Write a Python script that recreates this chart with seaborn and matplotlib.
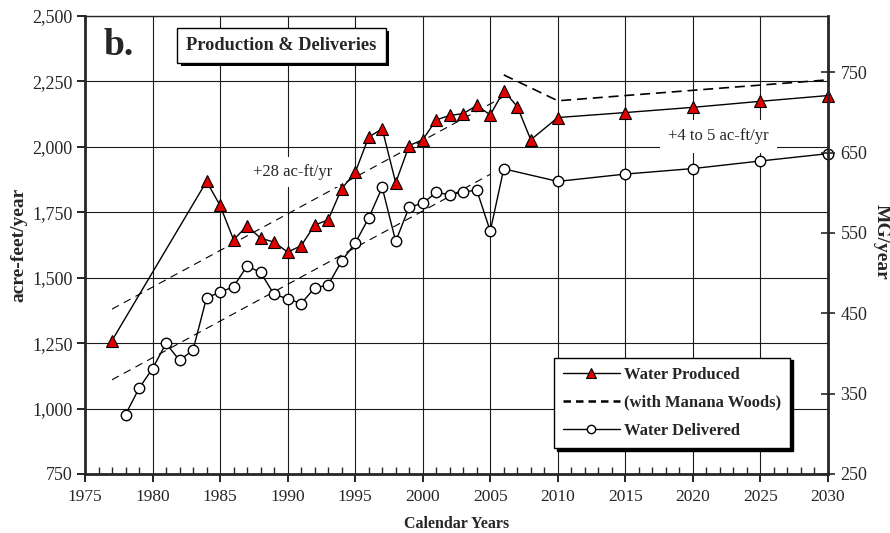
import matplotlib
matplotlib.use("Agg")
import matplotlib.pyplot as plt
import matplotlib.ticker as mticker
import matplotlib.patheffects as pe
from matplotlib.lines import Line2D
import seaborn as sns
import pandas as pd

# water produced (acre-feet/year)
prod_years = [1977, 1984, 1985, 1986, 1987, 1988, 1989, 1990, 1991, 1992, 1993,
              1994, 1995, 1996, 1997, 1998, 1999, 2000, 2001, 2002, 2003, 2004,
              2005, 2006, 2007, 2008, 2010, 2015, 2020, 2025, 2030]
produced = [1260, 1868, 1776, 1645, 1698, 1651, 1636, 1598, 1622, 1701, 1721,
            1840, 1902, 2037, 2069, 1863, 2005, 2027, 2103, 2120, 2127, 2158,
            2122, 2214, 2154, 2027, 2112, 2131, 2151, 2174, 2196]

# water delivered (acre-feet/year)
deliv_years = [1978, 1979, 1980, 1981, 1982, 1983, 1984, 1985, 1986, 1987, 1988,
               1989, 1990, 1991, 1992, 1993, 1994, 1995, 1996, 1997, 1998, 1999,
               2000, 2001, 2002, 2003, 2004, 2005, 2006, 2010, 2015, 2020, 2025, 2030]
delivered = [977, 1077, 1153, 1249, 1184, 1224, 1424, 1444, 1466, 1545, 1520,
             1436, 1420, 1401, 1461, 1472, 1564, 1632, 1728, 1845, 1639, 1770,
             1784, 1826, 1817, 1827, 1835, 1678, 1916, 1868, 1896, 1917, 1946, 1974]

# produced incl. Manana Woods
manana_years = [2006, 2010, 2015, 2020, 2025, 2030]
manana = [2275, 2176, 2196, 2216, 2236, 2256]

# +28 ac-ft/yr trend lines
trend_prod_years = [1977, 2006]
trend_prod = [1380, 2192]
trend_deliv_years = [1977, 2005]
trend_deliv = [1110, 1895]

sns.set_style("ticks")
plt.rcParams['font.family'] = ['Liberation Serif', 'DejaVu Serif']

fig = plt.figure(figsize=(8.9, 5.33), dpi=100)
ax = fig.add_axes([0.0955, 0.1107, 0.8348, 0.8593])

# trend lines
for xs, ys in [(trend_prod_years, trend_prod), (trend_deliv_years, trend_deliv)]:
    sns.lineplot(x=xs, y=ys, ax=ax, color='black', lw=0.8, zorder=3)
    ax.lines[-1].set_dashes((7, 5))

sns.lineplot(x=manana_years, y=manana, ax=ax, color='black', lw=1.2, zorder=3)
ax.lines[-1].set_dashes((6, 3.5))

sns.lineplot(x=deliv_years, y=delivered, ax=ax, color='black', lw=1.0,
             marker='o', markersize=7.5, markerfacecolor='white',
             markeredgecolor='black', markeredgewidth=1.0, zorder=4, clip_on=False)
sns.lineplot(x=prod_years, y=produced, ax=ax, color='black', lw=1.0,
             marker='^', markersize=8.5, markerfacecolor='#e00000',
             markeredgecolor='black', markeredgewidth=0.8, zorder=5, clip_on=False)

ax.set_xlim(1975, 2030)
ax.set_ylim(750, 2500)
ax.xaxis.set_major_locator(mticker.MultipleLocator(5))
ax.xaxis.set_minor_locator(mticker.MultipleLocator(1))
ax.yaxis.set_major_locator(mticker.MultipleLocator(250))
ax.yaxis.set_major_formatter(mticker.StrMethodFormatter('{x:,.0f}'))
ax.grid(True, which='major', color='#1a1a1a', lw=0.8)
ax.set_axisbelow(True)
ax.tick_params(axis='x', which='major', direction='out', length=6, width=1.2,
               labelsize=12.5, pad=5, color='black')
ax.tick_params(axis='x', which='minor', direction='in', length=5, width=1.0)
ax.tick_params(axis='y', which='major', direction='out', length=6, width=1.2,
               labelsize=13, pad=3, color='black')
ax.tick_params(right=False)
for side in ['left', 'bottom']:
    ax.spines[side].set_linewidth(2)
ax.spines['top'].set_linewidth(1)
ax.spines['right'].set_visible(False)

ax.set_xlabel('Calendar Years', fontsize=11.5, fontweight='bold', labelpad=8)
ax.set_ylabel('acre-feet/year', fontsize=14, fontweight='bold', labelpad=3)

ax2 = ax.twinx()
ax2.set_ylim(250, 820)
ax2.yaxis.set_major_locator(mticker.FixedLocator([250, 350, 450, 550, 650, 750]))
ax2.tick_params(axis='y', direction='inout', length=10, width=1.2, labelsize=13, pad=4)
ax2.spines['right'].set_linewidth(2)
for side in ['left', 'top', 'bottom']:
    ax2.spines[side].set_visible(False)
ax2.grid(False)
ax2.set_ylabel('MG/year', fontsize=14, fontweight='bold', rotation=270,
               va='center', ha='center')
ax2.yaxis.set_label_coords(1.072, 0.507)

# annotations
ax.text(1990.4, 1902, '+28 ac-ft/yr', fontsize=12, ha='center', va='center', zorder=6,
        bbox=dict(facecolor='white', edgecolor='none', pad=5))
ax.text(2021.9, 2040, '+4 to 5 ac-ft/yr', fontsize=12, ha='center', va='center', zorder=6,
        bbox=dict(facecolor='white', edgecolor='none', pad=6))

ax.text(0.045, 0.915, 'b.', transform=ax.transAxes, fontsize=27, fontweight='bold',
        ha='center', va='baseline')

title = ax.text(0.2645, 0.9356, 'Production & Deliveries', transform=ax.transAxes,
                fontsize=13.2, fontweight='bold', ha='center', va='center', zorder=7,
                bbox=dict(facecolor='white', edgecolor='black', pad=6.5, lw=1))
title.get_bbox_patch().set_path_effects(
    [pe.SimplePatchShadow(offset=(2.5, -2.5), shadow_rgbFace='black', alpha=1), pe.Normal()])

handles = [
    Line2D([], [], color='black', lw=1.0, marker='^', markersize=7,
           markerfacecolor='#e00000', markeredgecolor='black', markeredgewidth=0.8),
    Line2D([], [], color='black', lw=1.8, dashes=(3, 2)),
    Line2D([], [], color='black', lw=1.0, marker='o', markersize=6,
           markerfacecolor='white', markeredgecolor='black'),
]
labels = ['Water Produced', '(with Manana Woods)', 'Water Delivered']
leg = ax2.legend(handles, labels, loc='lower right', bbox_to_anchor=(0.949, 0.057),
                 frameon=True, fancybox=False, shadow={'color': 'black', 'alpha': 1},
                 prop={'weight': 'bold', 'size': 12}, handlelength=3.4,
                 labelspacing=0.72, borderpad=0.55, handletextpad=0.25, borderaxespad=0)
leg.get_frame().set_edgecolor('black')
leg.get_frame().set_linewidth(1.0)

fig.savefig('out.png', dpi=100)
